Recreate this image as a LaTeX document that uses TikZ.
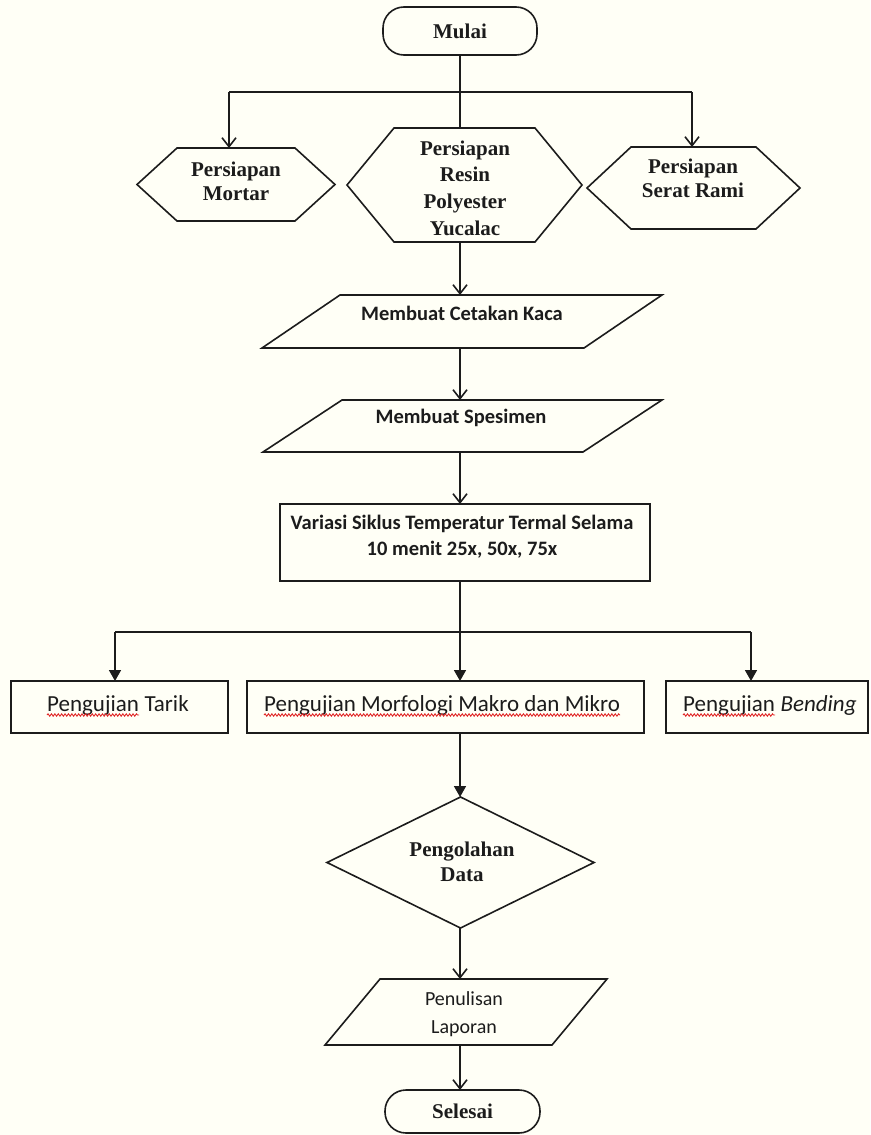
\documentclass[tikz,border=0pt]{standalone}
\usepackage{fontspec}
\usetikzlibrary{arrows.meta,calc,decorations.pathmorphing}
\newfontfamily\tnrfont{Liberation Serif}
\newfontfamily\calfont{Carlito}
\definecolor{bgc}{RGB}{255,255,246}
\definecolor{ink}{RGB}{28,28,28}
\definecolor{spell}{RGB}{225,40,40}
\tikzset{
  frame/.style={rectangle, inner sep=0pt, outer sep=0pt},
  shp/.style={draw=ink, line width=1.6pt, line join=miter},
  ln/.style={draw=ink, line width=1.6pt},
  oarr/.style={ln, -{Straight Barb[length=9pt,width=14pt]}},
  farr/.style={ln, -{Triangle[length=11pt,width=12pt]}},
  serif/.style={font={\tnrfont\bfseries\fontsize{21}{24}\selectfont}, align=center, text=ink, inner sep=0pt},
  calb/.style={font={\calfont\bfseries\fontsize{20.5}{26}\selectfont}, align=center, text=ink, inner sep=0pt},
  calr/.style={font={\calfont\fontsize{23}{28}\selectfont}, align=center, text=ink, inner sep=0pt},
  wave/.style={draw=spell, line width=0.9pt, decorate, decoration={snake, amplitude=1.2pt, segment length=3.4pt}},
  term/.style={frame, draw=ink, line width=1.6pt, rounded corners=21pt, text=ink,
    font={\tnrfont\bfseries\fontsize{21}{24}\selectfont}}
}
\begin{document}
\begin{tikzpicture}[x=1pt,y=-1pt]
\fill[bgc] (0,0) rectangle (870,1135);
\useasboundingbox (0,0) rectangle (870,1135);

% ---------- shapes ----------
\node[term, minimum width=154pt, minimum height=48pt] (start) at (460,31) {Mulai};

\node[frame, minimum width=198pt, minimum height=73pt] (mortar) at (236,184.5) {};
\node[frame, minimum width=235pt, minimum height=114pt] (resin) at (464.5,185) {};
\node[frame, minimum width=213pt, minimum height=82pt] (serat) at (693.5,188) {};

\node[frame, minimum width=400pt, minimum height=53pt] (cet) at (462,321.5) {};
\node[frame, minimum width=399pt, minimum height=52pt] (spes) at (462.5,426) {};
\node[frame, draw=ink, line width=1.6pt, minimum width=370pt, minimum height=77pt] (var) at (465,542.5) {};

\node[frame, draw=ink, line width=1.6pt, minimum width=217pt, minimum height=52pt] (tarik) at (119.5,707) {};
\node[frame, draw=ink, line width=1.6pt, minimum width=397pt, minimum height=52pt] (morf) at (445.5,707) {};
\node[frame, draw=ink, line width=1.6pt, minimum width=202pt, minimum height=52pt] (bend) at (767,707) {};

\node[frame, minimum width=267pt, minimum height=131pt] (diam) at (460.5,862.5) {};
\node[frame, minimum width=282pt, minimum height=66pt] (pen) at (466,1012) {};
\node[term, minimum width=155pt, minimum height=43pt] (end) at (462.5,1111.5) {Selesai};

% hexagons
\draw[shp] ([xshift=40pt]mortar.north west) -- ([xshift=-40pt]mortar.north east) -- (mortar.east)
  -- ([xshift=-40pt]mortar.south east) -- ([xshift=40pt]mortar.south west) -- (mortar.west) -- cycle;
\draw[shp] ([xshift=47pt]resin.north west) -- ([xshift=-47pt]resin.north east) -- (resin.east)
  -- ([xshift=-47pt]resin.south east) -- ([xshift=47pt]resin.south west) -- (resin.west) -- cycle;
\draw[shp] ([xshift=44pt]serat.north west) -- ([xshift=-44pt]serat.north east) -- (serat.east)
  -- ([xshift=-44pt]serat.south east) -- ([xshift=44pt]serat.south west) -- (serat.west) -- cycle;
% parallelograms
\draw[shp] ([xshift=78pt]cet.north west) -- (cet.north east) -- ([xshift=-78pt]cet.south east) -- (cet.south west) -- cycle;
\draw[shp] ([xshift=79pt]spes.north west) -- (spes.north east) -- ([xshift=-79pt]spes.south east) -- (spes.south west) -- cycle;
\draw[shp] ([xshift=55pt]pen.north west) -- (pen.north east) -- ([xshift=-55pt]pen.south east) -- (pen.south west) -- cycle;
% diamond
\draw[shp] (diam.north) -- (diam.east) -- (diam.south) -- (diam.west) -- cycle;

% ---------- texts ----------
\node[serif] (tmortar) at (236,181) {Persiapan\\Mortar};
\node[serif, font={\tnrfont\bfseries\fontsize{21}{26.7}\selectfont}] (tresin) at (465,188) {Persiapan\\Resin\\Polyester\\Yucalac};
\node[serif] (tserat) at (693,178) {Persiapan\\Serat Rami};
\node[calb] (tcet) at (462,313) {Membuat Cetakan Kaca};
\node[calb] (tspes) at (461,418) {Membuat Spesimen};
\node[calb] (tvar) at (462,537) {Variasi Siklus Temperatur Termal Selama\\10 menit 25x, 50x, 75x};

\node[calr, anchor=base west] (ttarik) at (47,711) {Pengujian};
\node[calr, anchor=base west] (ttarik2) at ([xshift=5.2pt]ttarik.base east) {Tarik};
\node[calr, anchor=base west] (tmorf) at (264,711) {Pengujian Morfologi Makro dan Mikro};
\node[calr, anchor=base west] (tbend) at (683,711) {Pengujian};
\node[calr, anchor=base west] (tbend2) at ([xshift=5.2pt]tbend.base east) {\itshape Bending};
\draw[wave] ([yshift=-4pt]ttarik.base west) -- ([yshift=-4pt]ttarik.base east);
\draw[wave] ([yshift=-4pt]tmorf.base west) -- ([yshift=-4pt]tmorf.base east);
\draw[wave] ([yshift=-4pt]tbend.base west) -- ([yshift=-4pt]tbend.base east);

\node[serif, font={\tnrfont\bfseries\fontsize{21}{25}\selectfont}] (tdiam) at (462,862) {Pengolahan\\Data};
\node[calr, font={\calfont\fontsize{20}{28}\selectfont}] (tpen) at (464,1014) {Penulisan\\Laporan};

% ---------- connectors ----------
\coordinate (j1) at (460,92);
\coordinate (ma) at (229,92);
\coordinate (sa) at (692,92);
\draw[ln] (start.south) -- (j1) -- (j1 |- resin.north);
\draw[ln] (ma) -- (sa);
\draw[oarr] (ma) -- (ma |- mortar.north);
\draw[oarr] (sa) -- (sa |- serat.north);
\draw[oarr] (resin.south -| j1) -- (cet.north -| j1);
\draw[oarr] (cet.south -| j1) -- (spes.north -| j1);
\draw[oarr] (spes.south -| j1) -- (var.north -| j1);

\coordinate (j2) at (460,632);
\coordinate (ta) at (115,632);
\coordinate (ba) at (751,632);
\draw[ln] (var.south -| j2) -- (j2);
\draw[ln] (ta) -- (ba);
\draw[farr] (ta) -- (ta |- tarik.north);
\draw[farr] (j2) -- (j2 |- morf.north);
\draw[farr] (ba) -- (ba |- bend.north);
\draw[farr] (morf.south -| j2) -- (diam.north -| j2);
\draw[oarr] (diam.south -| j2) -- (pen.north -| j2);
\draw[oarr] (pen.south -| j2) -- (end.north -| j2);
\end{tikzpicture}
\end{document}
